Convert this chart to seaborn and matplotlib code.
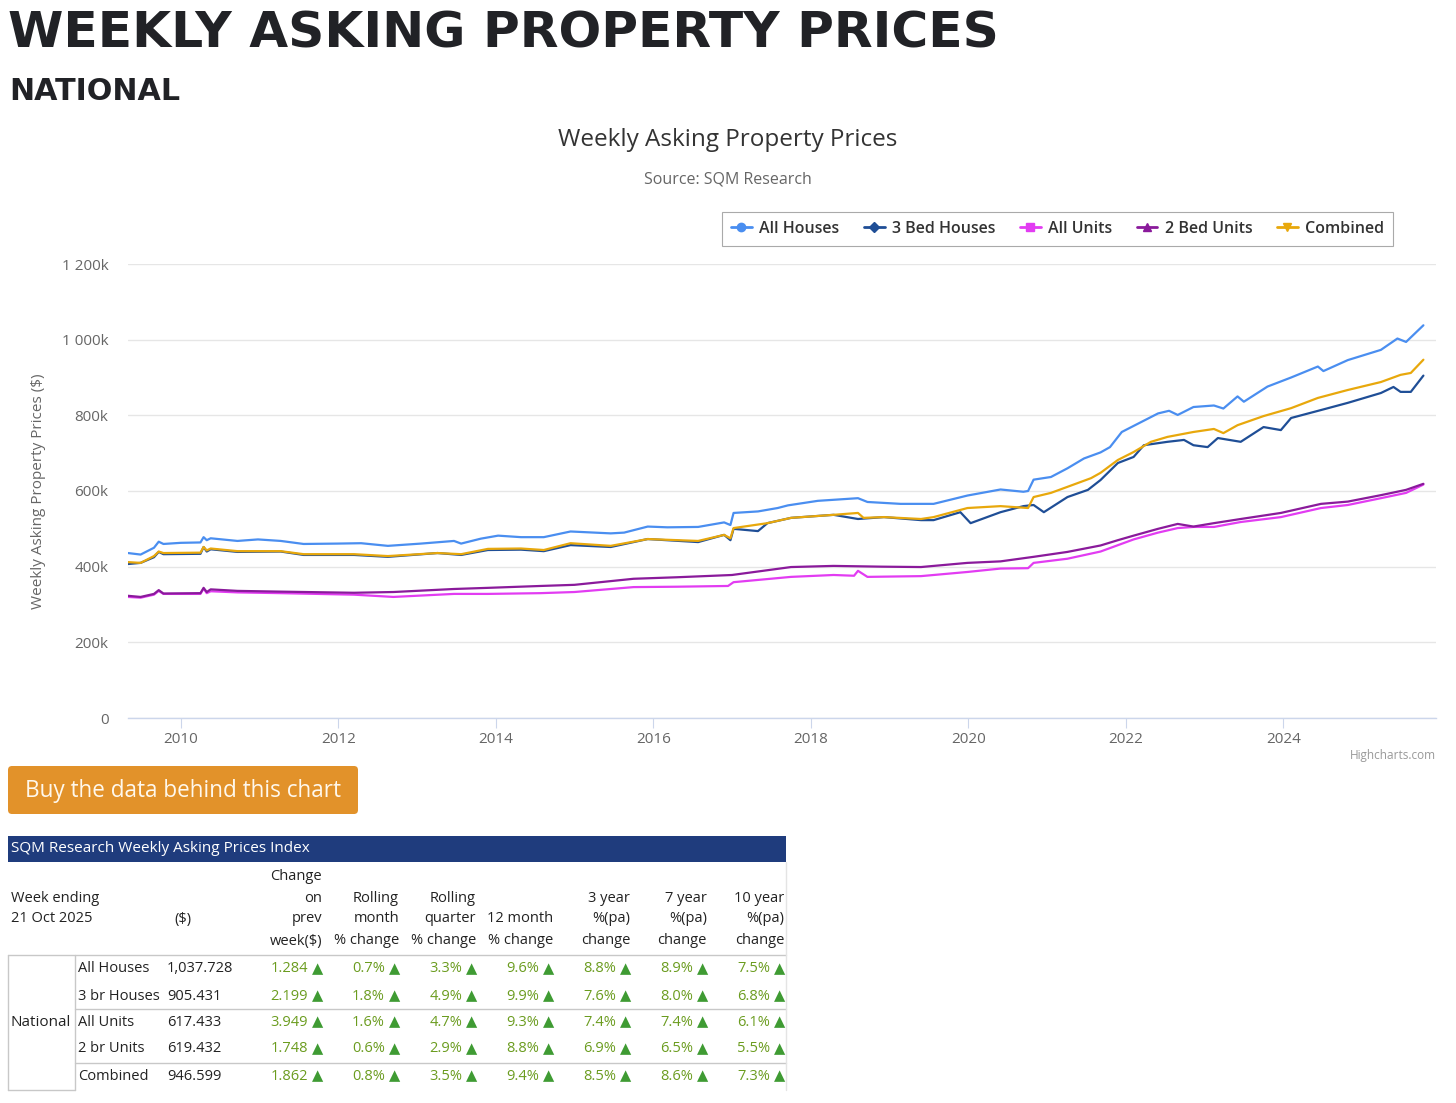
import matplotlib
matplotlib.use("Agg")
import matplotlib.pyplot as plt
import seaborn as sns
import pandas as pd
from matplotlib.lines import Line2D
from matplotlib.patches import Rectangle, FancyBboxPatch
from matplotlib.ticker import FuncFormatter

# ---------------- data (values in $ thousands) ----------------
series_names = ["All Houses", "3 Bed Houses", "All Units", "2 Bed Units", "Combined"]
series_colors = ["#4a8ef0", "#1f4e96", "#e23cf2", "#8a1a9b", "#e8a80c"]
series_markers = ["o", "D", "s", "^", "v"]

all_houses_x = [2009.33, 2009.49, 2009.66, 2009.72, 2009.78, 2010.00, 2010.25, 2010.29, 2010.33, 2010.38,
                2010.72, 2010.98, 2011.27, 2011.56, 2011.99, 2012.29, 2012.63, 2013.05, 2013.47, 2013.56,
                2013.81, 2014.03, 2014.32, 2014.61, 2014.95, 2015.46, 2015.63, 2015.93, 2016.18, 2016.57,
                2016.90, 2016.98, 2017.02, 2017.33, 2017.58, 2017.71, 2018.09, 2018.60, 2018.72, 2019.14,
                2019.56, 2019.99, 2020.41, 2020.70, 2020.76, 2020.83, 2021.05, 2021.26, 2021.47, 2021.68,
                2021.80, 2021.95, 2022.10, 2022.41, 2022.55, 2022.66, 2022.86, 2023.12, 2023.24, 2023.42,
                2023.50, 2023.80, 2024.10, 2024.44, 2024.51, 2024.82, 2025.24, 2025.45, 2025.56, 2025.78]
all_houses = [436, 432, 450, 466, 460, 463, 464, 478, 470, 475,
              468, 472, 468, 460, 461, 462, 455, 461, 468, 461,
              474, 482, 478, 478, 493, 488, 490, 506, 504, 505,
              517, 510, 542, 546, 555, 562, 574, 581, 571, 566,
              566, 588, 604, 598, 600, 630, 637, 660, 686, 702,
              716, 756, 772, 805, 812, 801, 822, 826, 818, 850,
              836, 876, 900, 929, 917, 946, 973, 1003, 994, 1038]

bed3_houses_x = [2009.33, 2009.49, 2009.66, 2009.72, 2009.78, 2010.25, 2010.29, 2010.33, 2010.38, 2010.72,
                 2011.27, 2011.56, 2012.20, 2012.63, 2013.26, 2013.56, 2013.90, 2014.32, 2014.61, 2014.95,
                 2015.46, 2015.93, 2016.57, 2016.90, 2016.98, 2017.02, 2017.33, 2017.45, 2017.75, 2018.29,
                 2018.60, 2018.93, 2019.40, 2019.56, 2019.90, 2020.03, 2020.41, 2020.70, 2020.83, 2020.96,
                 2021.26, 2021.52, 2021.68, 2021.90, 2022.10, 2022.23, 2022.53, 2022.74, 2022.86, 2023.04,
                 2023.17, 2023.46, 2023.75, 2023.97, 2024.10, 2024.48, 2024.82, 2025.24, 2025.40, 2025.49,
                 2025.62, 2025.78]
bed3_houses = [407, 410, 425, 439, 433, 434, 452, 440, 446, 439,
               440, 431, 431, 426, 436, 431, 444, 445, 441, 457,
               452, 473, 465, 484, 470, 500, 494, 515, 529, 537,
               526, 531, 523, 523, 544, 515, 544, 560, 563, 544,
               584, 603, 629, 674, 690, 721, 730, 735, 721, 716,
               740, 730, 769, 761, 793, 814, 833, 859, 875, 862,
               862, 905]

all_units_x = [2009.33, 2009.49, 2009.66, 2009.72, 2009.78, 2010.25, 2010.29, 2010.33, 2010.38, 2010.72,
               2011.27, 2012.20, 2012.70, 2013.47, 2013.90, 2014.57, 2015.00, 2015.75, 2016.30, 2016.95,
               2017.02, 2017.75, 2018.29, 2018.55, 2018.60, 2018.72, 2019.40, 2019.99, 2020.41, 2020.76,
               2020.83, 2021.26, 2021.68, 2022.10, 2022.41, 2022.66, 2022.86, 2023.12, 2023.46, 2023.97,
               2024.48, 2024.82, 2025.24, 2025.56, 2025.78]
all_units = [320, 318, 326, 336, 328, 328, 342, 330, 335, 332,
             330, 326, 320, 328, 328, 330, 333, 346, 347, 349,
             359, 373, 378, 376, 389, 373, 375, 386, 395, 396,
             410, 421, 440, 472, 490, 502, 505, 505, 518, 531,
             555, 563, 581, 595, 617]

bed2_units_x = [2009.33, 2009.49, 2009.66, 2009.72, 2009.78, 2010.25, 2010.29, 2010.33, 2010.38, 2010.72,
                2011.27, 2012.20, 2012.70, 2013.47, 2013.90, 2014.57, 2015.00, 2015.75, 2016.30, 2017.00,
                2017.75, 2018.29, 2018.90, 2019.40, 2019.99, 2020.41, 2020.83, 2021.26, 2021.68, 2021.90,
                2022.10, 2022.41, 2022.66, 2022.86, 2023.12, 2023.46, 2023.97, 2024.48, 2024.82, 2025.24,
                2025.56, 2025.78]
bed2_units = [323, 320, 328, 338, 329, 330, 344, 333, 340, 336,
              334, 331, 333, 341, 344, 349, 352, 368, 372, 378,
              399, 402, 400, 399, 410, 414, 426, 439, 456, 470,
              482, 500, 513, 506, 515, 526, 542, 566, 572, 589,
              603, 619]

combined_x = [2009.33, 2009.49, 2009.66, 2009.72, 2009.78, 2010.25, 2010.29, 2010.33, 2010.38, 2010.72,
              2011.27, 2011.56, 2012.20, 2012.63, 2013.26, 2013.56, 2013.90, 2014.32, 2014.61, 2014.95,
              2015.46, 2015.93, 2016.57, 2016.90, 2016.98, 2017.02, 2017.45, 2017.75, 2018.29, 2018.60,
              2018.67, 2018.93, 2019.40, 2019.56, 2019.99, 2020.41, 2020.76, 2020.83, 2021.05, 2021.26,
              2021.56, 2021.68, 2021.90, 2022.10, 2022.32, 2022.53, 2022.86, 2023.12, 2023.24, 2023.42,
              2023.75, 2024.10, 2024.44, 2024.82, 2025.24, 2025.49, 2025.62, 2025.78]
combined = [412, 410, 428, 440, 436, 437, 452, 443, 448, 441,
            441, 433, 433, 428, 436, 433, 447, 448, 444, 462,
            455, 473, 468, 484, 475, 502, 515, 529, 537, 542,
            529, 531, 526, 531, 555, 560, 555, 584, 595, 611,
            634, 648, 682, 703, 730, 743, 756, 764, 753, 774,
            798, 819, 846, 867, 888, 907, 912, 947]

x_ticks = [2010, 2012, 2014, 2016, 2018, 2020, 2022, 2024]
y_ticks = [0, 200, 400, 600, 800, 1000, 1200]

# table data
table_title = "SQM Research Weekly Asking Prices Index"
table_week = ["Week ending", "21 Oct 2025"]
table_region = "National"
table_rows = ["All Houses", "3 br Houses", "All Units", "2 br Units", "Combined"]
table_prices = ["1,037.728", "905.431", "617.433", "619.432", "946.599"]
table_headers = [["Change", "on", "prev", "week($)"],
                 ["Rolling", "month", "% change"],
                 ["Rolling", "quarter", "% change"],
                 ["12 month", "% change"],
                 ["3 year", "%(pa)", "change"],
                 ["7 year", "%(pa)", "change"],
                 ["10 year", "%(pa)", "change"]]
chg_week = ["1.284", "2.199", "3.949", "1.748", "1.862"]
chg_month = ["0.7%", "1.8%", "1.6%", "0.6%", "0.8%"]
chg_quarter = ["3.3%", "4.9%", "4.7%", "2.9%", "3.5%"]
chg_12m = ["9.6%", "9.9%", "9.3%", "8.8%", "9.4%"]
chg_3y = ["8.8%", "7.6%", "7.4%", "6.9%", "8.5%"]
chg_7y = ["8.9%", "8.0%", "7.4%", "6.5%", "8.6%"]
chg_10y = ["7.5%", "6.8%", "6.1%", "5.5%", "7.3%"]

# ---------------- figure ----------------
W, H = 1456, 1103
sns.set_theme(style="white")
plt.rcParams["font.family"] = ["Open Sans", "DejaVu Sans"]

fig = plt.figure(figsize=(W / 100, H / 100), dpi=100)

# overlay axes in pixel coordinates for page elements
ov = fig.add_axes([0, 0, 1, 1])
ov.set_xlim(0, W)
ov.set_ylim(H, 0)
ov.axis("off")
ov.patch.set_alpha(0)

# chart axes
L, R, T, B = 128, 1436, 264, 718
ax = fig.add_axes([L / W, 1 - B / H, (R - L) / W, (B - T) / H])

frames = []
for name, xs, ys in zip(series_names,
                        [all_houses_x, bed3_houses_x, all_units_x, bed2_units_x, combined_x],
                        [all_houses, bed3_houses, all_units, bed2_units, combined]):
    frames.append(pd.DataFrame({"Year": xs, "Price": ys, "Series": name}))
df = pd.concat(frames, ignore_index=True)

sns.lineplot(data=df, x="Year", y="Price", hue="Series", hue_order=series_names,
             palette=dict(zip(series_names, series_colors)), estimator=None, sort=False,
             linewidth=1.6, legend=False, ax=ax)

ax.set_xlim(2009.33, 2025.94)
ax.set_ylim(0, 1200)
ax.set_xticks(x_ticks)
ax.set_xticklabels([str(v) for v in x_ticks])
ax.set_yticks(y_ticks)
ax.yaxis.set_major_formatter(FuncFormatter(
    lambda v, p: "0" if v == 0 else f"{int(v):,}k".replace(",", " ")))
ax.grid(axis="y", color="#e6e6e6", linewidth=1)
ax.grid(axis="x", visible=False)
ax.set_axisbelow(True)
for s in ["left", "right", "top"]:
    ax.spines[s].set_visible(False)
ax.spines["bottom"].set_color("#ccd6eb")
ax.spines["bottom"].set_linewidth(1)
ax.tick_params(axis="x", length=7, width=0.8, color="#ccd6eb", labelcolor="#666666",
               labelsize=11, pad=3, bottom=True)
ax.tick_params(axis="y", length=0, labelcolor="#666666", labelsize=11, pad=14)
ax.set_xlabel("")
ax.set_ylabel("Weekly Asking Property Prices ($)", color="#666666", fontsize=11)
ax.yaxis.set_label_coords((46 - L) / (R - L), 0.5)

# legend
handles = [Line2D([0], [0], color=c, marker=m, markersize=6 if m != "D" else 5, lw=2)
           for c, m in zip(series_colors, series_markers)]
leg = fig.legend(handles, series_names, loc="center", bbox_to_anchor=((720 + 1395) / 2 / W, 1 - 229 / H),
                 ncol=5, frameon=True, fancybox=False, edgecolor="#aaaaaa", framealpha=1,
                 prop={"size": 11.5, "weight": "semibold"}, handlelength=1.3, handletextpad=0.45,
                 columnspacing=1.55, borderpad=0.55)
leg.get_frame().set_linewidth(0.8)
for t in leg.get_texts():
    t.set_color("#333333")

# titles
def fit_width(t, target):
    fig.canvas.draw()
    bb = t.get_window_extent(renderer=fig.canvas.get_renderer())
    t.set_fontsize(t.get_fontsize() * target / bb.width)

big = ov.text(8, 47, "WEEKLY ASKING PROPERTY PRICES", fontsize=40, fontweight="bold",
              color="#212226", ha="left", va="baseline", family=["DejaVu Sans"])
fit_width(big, 990)
nat = ov.text(9, 100, "NATIONAL", fontsize=24, fontweight="bold",
              color="#212226", ha="left", va="baseline", family=["DejaVu Sans"])
fit_width(nat, 172)

ov.text(728, 140, "Weekly Asking Property Prices", fontsize=17.5, color="#333333", ha="center", va="center")
ov.text(728, 179, "Source: SQM Research", fontsize=11.5, color="#666666", ha="center", va="center")
ov.text(1436, 756, "Highcharts.com", fontsize=8.5, color="#999999", ha="right", va="center")

# button
ov.add_patch(FancyBboxPatch((8, 766), 350, 48, boxstyle="round,pad=0,rounding_size=4",
                            facecolor="#e2922a", edgecolor="none"))
btn = ov.text(183, 791, "Buy the data behind this chart", fontsize=15, color="#fff8ec",
              ha="center", va="center")
fit_width(btn, 317)

# table
ov.add_patch(Rectangle((8, 836), 778, 26, facecolor="#1f3c7d", edgecolor="none"))
ov.text(11, 849, table_title, fontsize=11, color="white", ha="left", va="center")

line_c = "#c8c8c8"
ov.plot([8, 786], [955, 955], color=line_c, lw=1)
ov.plot([75, 786], [1009, 1009], color=line_c, lw=1)
ov.plot([75, 786], [1063, 1063], color=line_c, lw=1)
ov.plot([8, 8], [955, 1090], color=line_c, lw=1)
ov.plot([75, 75], [955, 1090], color=line_c, lw=1)
ov.plot([8, 75], [1090, 1090], color=line_c, lw=1)
ov.plot([786, 786], [862, 1090], color="#e4e4e4", lw=1)

txt_c = "#222222"
fs = 10.5
ov.text(11, 899, table_week[0], fontsize=fs, color=txt_c, ha="left", va="center")
ov.text(11, 919, table_week[1], fontsize=fs, color=txt_c, ha="left", va="center")
ov.text(183, 919, "($)", fontsize=fs, color=txt_c, ha="center", va="center")

col_right = [322, 399, 476, 553, 630, 707, 784]
line_y = [877, 899, 919, 941]
for cr, hdr in zip(col_right, table_headers):
    ys = line_y[len(line_y) - len(hdr):]
    for yy, s in zip(ys, hdr):
        ov.text(cr, yy, s, fontsize=fs, color=txt_c, ha="right", va="center")

row_y = [969, 996, 1022, 1049, 1076]
ov.text(11, 1022, table_region, fontsize=11, color=txt_c, ha="left", va="center")
green_txt = "#6b9c1f"
green_tri = "#3f9b33"
cols = [chg_week, chg_month, chg_quarter, chg_12m, chg_3y, chg_7y, chg_10y]
for i, ry in enumerate(row_y):
    ov.text(78, ry, table_rows[i], fontsize=fs, color=txt_c, ha="left", va="center")
    ov.text(167, ry, table_prices[i], fontsize=fs, color=txt_c, ha="left", va="center")
    for cr, col in zip(col_right, cols):
        ov.text(cr - 14, ry, col[i], fontsize=fs, color=green_txt, ha="right", va="center")
        ov.text(cr + 1, ry, "\u25B2", fontsize=10.5, color=green_tri, ha="right", va="center",
                family=["DejaVu Sans"])

fig.savefig("out.png", dpi=100)
